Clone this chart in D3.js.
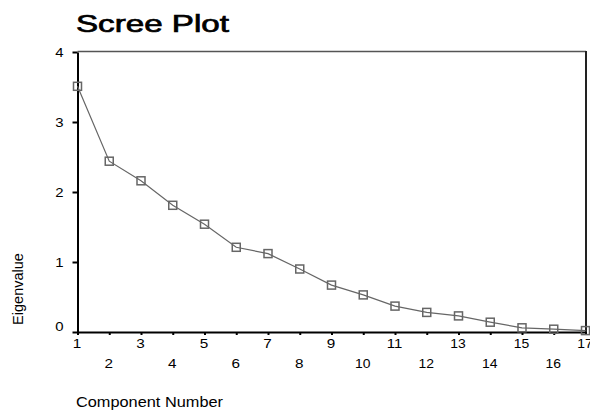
<!DOCTYPE html>
<html>
<head>
<meta charset="utf-8">
<script src="https://cdn.jsdelivr.net/npm/d3@7"></script>
<style>
  body { margin: 0; background: #fff; }
  svg { display: block; }
  text { font-family: "Liberation Sans", Arial, sans-serif; fill: #000; }
</style>
</head>
<body>
<svg id="chart" width="590" height="410"></svg>
<script>
const components = [1,2,3,4,5,6,7,8,9,10,11,12,13,14,15,16,17];
const eigenvalues = [3.51,2.44,2.16,1.81,1.54,1.21,1.12,0.90,0.67,0.53,0.37,0.28,0.23,0.14,0.06,0.04,0.02];
const yTicks = [0,1,2,3,4];
const title = "Scree Plot";
const xLabel = "Component Number";
const yLabel = "Eigenvalue";

const svg = d3.select("#chart");
const plotLeft = 77.5, plotRight = 585.5, plotTop = 52, plotBottom = 332;

const x = d3.scaleLinear().domain([1,17]).range([plotLeft, plotRight]);
const y = d3.scaleLinear().domain([0,4]).range([plotBottom, plotTop]);

// Title
svg.append("text").attr("x", 76).attr("y", 32)
  .attr("font-size", 23.5).attr("font-weight", "normal")
  .attr("stroke", "#000").attr("stroke-width", 0.7)
  .attr("textLength", 153).attr("lengthAdjust", "spacingAndGlyphs")
  .text(title);

// Frame top and right
svg.append("line").attr("x1", plotLeft).attr("x2", 586).attr("y1", 51.5).attr("y2", 51.5)
  .attr("stroke", "#555").attr("stroke-width", 1.5);
svg.append("line").attr("x1", 586).attr("x2", 586).attr("y1", 51).attr("y2", plotBottom)
  .attr("stroke", "#222").attr("stroke-width", 2);

// Left axis
const yAxis = svg.append("g").attr("transform", `translate(${plotLeft},0)`)
  .call(d3.axisLeft(y).tickValues(yTicks).tickFormat(d3.format("d")).tickSize(5).tickSizeOuter(0).tickPadding(6));
yAxis.select(".domain").attr("stroke", "#000").attr("stroke-width", 2);
yAxis.selectAll(".tick line").attr("stroke", "#000").attr("stroke-width", 2);
yAxis.selectAll(".tick text")
  .attr("font-family", "Liberation Sans, Arial, sans-serif")
  .attr("font-size", 13).attr("fill", "#000")
  .attr("transform", "scale(1.15,1)")
  .attr("dy", d => d === 0 ? "-0.15em" : "0.32em")
  .attr("x", -14 / 1.15);

// Bottom axis
const xAxis = svg.append("g").attr("transform", `translate(0,${plotBottom})`)
  .call(d3.axisBottom(x).tickValues(components).tickFormat(d3.format("d")).tickSize(3).tickSizeOuter(0));
xAxis.select(".domain").attr("stroke", "#000").attr("stroke-width", 2);
xAxis.selectAll(".tick line").attr("stroke", "#000").attr("stroke-width", 2);
xAxis.selectAll(".tick text")
  .attr("font-family", "Liberation Sans, Arial, sans-serif")
  .attr("font-size", 13).attr("fill", "#000")
  .attr("dy", 0)
  .attr("x", -1)
  .attr("y", d => d % 2 === 1 ? 15.5 : 35.5)
  .attr("textLength", d => d >= 10 ? 15.5 : 8.5)
  .attr("lengthAdjust", "spacingAndGlyphs");

// Line
const line = d3.line().x((d,i) => x(components[i])).y(d => y(d));
svg.append("path").datum(eigenvalues)
  .attr("d", line).attr("fill", "none")
  .attr("stroke", "#666").attr("stroke-width", 1.2);

// Markers
const s = 8;
svg.selectAll("rect.pt").data(eigenvalues).join("rect")
  .attr("class", "pt")
  .attr("x", (d,i) => x(components[i]) - s/2)
  .attr("y", d => y(d) - s/2)
  .attr("width", s).attr("height", s)
  .attr("fill", "none").attr("stroke", "#666").attr("stroke-width", 1.5);

// Axis labels
svg.append("text").attr("x", 76).attr("y", 406.5)
  .attr("font-size", 15)
  .attr("textLength", 147).attr("lengthAdjust", "spacingAndGlyphs")
  .text(xLabel);
svg.append("text").attr("transform", "translate(23,289) rotate(-90)")
  .attr("text-anchor", "middle").attr("font-size", 14.5)
  .text(yLabel);
</script>
</body>
</html>
